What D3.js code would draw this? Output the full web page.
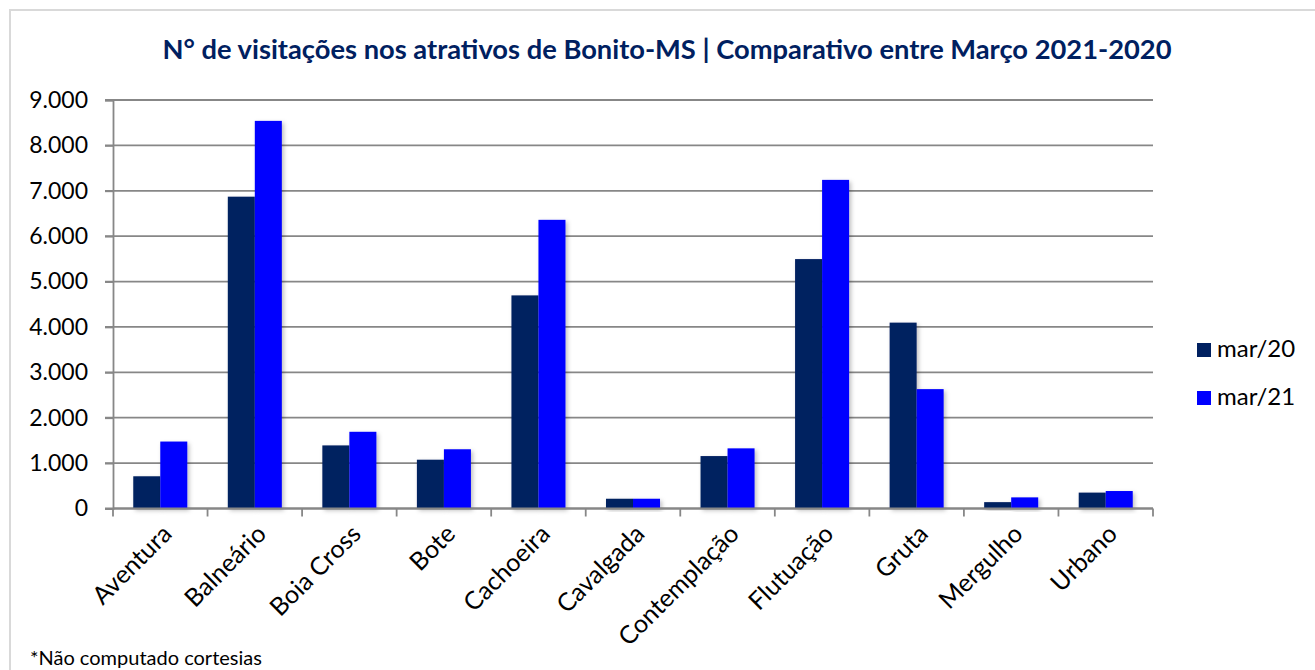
<!DOCTYPE html>
<html>
<head>
<meta charset="utf-8">
<script src="https://cdn.jsdelivr.net/npm/d3@7"></script>
<style>
  html, body { margin: 0; padding: 0; background: #fff; }
  svg { display: block; }
  text { font-family: Lato, "Open Sans", sans-serif; }
</style>
</head>
<body>
<svg id="chart" width="1315" height="670"></svg>
<script>
const categories = ["Aventura", "Balneário", "Boia Cross", "Bote", "Cachoeira", "Cavalgada", "Contemplação", "Flutuação", "Gruta", "Mergulho", "Urbano"];
const seriesNames = ["mar/20", "mar/21"];
const mar20 = [710, 6870, 1390, 1075, 4695, 215, 1155, 5495, 4095, 140, 350];
const mar21 = [1475, 8540, 1690, 1305, 6360, 215, 1325, 7240, 2630, 245, 385];
const yTicks = [0, 1000, 2000, 3000, 4000, 5000, 6000, 7000, 8000, 9000];
const colors = ["#002060", "#0000ff"];
const titleText = "N° de visitações nos atrativos de Bonito-MS | Comparativo entre  Março 2021-2020";
const footnote = "*Não computado cortesias";

(function () {
const svg = d3.select("#chart");

// outer frame
svg.append("rect").attr("x", 10).attr("y", 10).attr("width", 1320).attr("height", 700)
  .attr("fill", "#fff").attr("stroke", "#d9d9d9").attr("stroke-width", 2);

const defs = svg.append("defs");
const f = defs.append("filter").attr("id", "shadow").attr("x", "-20%").attr("y", "-20%").attr("width", "150%").attr("height", "150%");
f.append("feDropShadow").attr("dx", 2).attr("dy", 2).attr("stdDeviation", 2)
  .attr("flood-color", "#000").attr("flood-opacity", 0.25);

const pLeft = 113, pRight = 1153, pTop = 100, pBottom = 508.5;

const x = d3.scaleBand().domain(categories).range([pLeft, pRight]).paddingInner(0).paddingOuter(0);
const bw = x.bandwidth();
const x1 = d3.scaleBand().domain(seriesNames).range([bw * 0.2143, bw * 0.7857]).padding(0);
const y = d3.scaleLinear().domain([0, 9000]).range([pBottom, pTop]);

const locale = d3.formatLocale({ decimal: ",", thousands: ".", grouping: [3], currency: ["R$", ""] });
const fmt = locale.format(",.0f");

const gridColor = "#878787";

// gridlines
svg.append("g").selectAll("line").data(yTicks).join("line")
  .attr("x1", pLeft - 8).attr("x2", pRight)
  .attr("y1", d => y(d)).attr("y2", d => y(d))
  .attr("stroke", gridColor).attr("stroke-width", 1.8);

// y axis
const yAxis = svg.append("g").attr("transform", `translate(${pLeft},0)`)
  .call(d3.axisLeft(y).tickValues(yTicks).tickFormat(fmt).tickSize(8).tickPadding(17));
yAxis.select(".domain").attr("stroke", gridColor).attr("stroke-width", 1.8);
yAxis.selectAll(".tick line").attr("stroke", gridColor).attr("stroke-width", 1.8);
yAxis.selectAll(".tick text").attr("font-size", 23).attr("fill", "#000")
  .style("font-family", "Lato, sans-serif");

// bars
const data = categories.map((c, i) => ({ cat: c, values: [mar20[i], mar21[i]] }));
const groups = svg.append("g").selectAll("g").data(data).join("g")
  .attr("transform", d => `translate(${x(d.cat)},0)`);
groups.selectAll("rect").data(d => d.values.map((v, j) => ({ s: seriesNames[j], v, j })))
  .join("rect")
  .attr("x", d => x1(d.s)).attr("width", x1.bandwidth())
  .attr("y", d => y(d.v)).attr("height", d => y(0) - y(d.v))
  .attr("fill", d => colors[d.j])
  .attr("filter", "url(#shadow)");

// x axis line and ticks at band boundaries
svg.append("line").attr("x1", pLeft).attr("x2", pRight).attr("y1", y(0)).attr("y2", y(0))
  .attr("stroke", gridColor).attr("stroke-width", 1.8);
const boundaries = categories.map(c => x(c)).concat([pRight]);
svg.append("g").selectAll("line").data(boundaries).join("line")
  .attr("x1", d => d).attr("x2", d => d).attr("y1", y(0)).attr("y2", y(0) + 8)
  .attr("stroke", gridColor).attr("stroke-width", 1.8);

// x labels
svg.append("g").selectAll("text").data(categories).join("text")
  .attr("transform", d => `translate(${x(d) + bw / 2 + 13},${y(0) + 27}) rotate(-45)`)
  .attr("text-anchor", "end")
  .attr("font-size", 25).attr("fill", "#000")
  .text(d => d);

// title
svg.append("text").attr("x", 667).attr("y", 59).attr("text-anchor", "middle")
  .attr("font-size", 26).attr("font-weight", "bold").attr("fill", "#002060")
  .attr("textLength", 1009).attr("lengthAdjust", "spacingAndGlyphs")
  .text(titleText);

// legend
const legend = svg.append("g");
seriesNames.forEach((s, i) => {
  const ly = 343 + i * 48;
  legend.append("rect").attr("x", 1197).attr("y", ly).attr("width", 14).attr("height", 14).attr("fill", colors[i]);
  legend.append("text").attr("x", 1217).attr("y", ly + 14).attr("font-size", 24).attr("fill", "#000").text(s);
});

// footnote
svg.append("text").attr("x", 30).attr("y", 665).attr("font-size", 20).attr("fill", "#000").text(footnote);
})();
</script>
</body>
</html>
